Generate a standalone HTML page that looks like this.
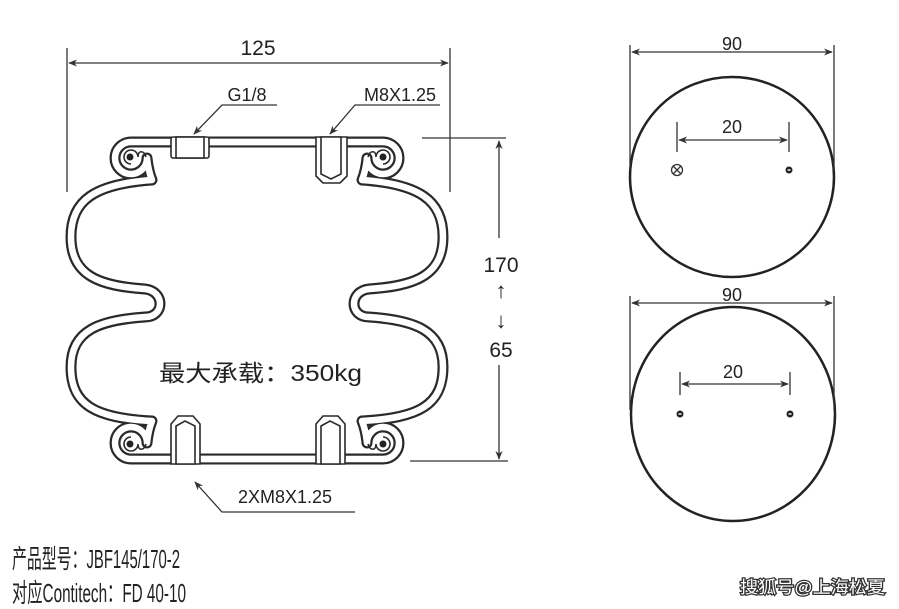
<!DOCTYPE html>
<html><head><meta charset="utf-8"><style>
html,body{margin:0;padding:0;background:#fff;width:899px;height:609px;overflow:hidden}
svg{display:block}
text{font-family:"Liberation Sans","Noto Sans CJK SC",sans-serif;fill:#222}
</style></head><body>
<svg width="899" height="609" viewBox="0 0 899 609" xmlns="http://www.w3.org/2000/svg">
<defs>
<marker id="a" viewBox="0 0 10 10" refX="9" refY="5" markerWidth="9" markerHeight="9" orient="auto-start-reverse" markerUnits="userSpaceOnUse"><path d="M0,1 L10,5 L0,9 L3,5z" fill="#333"/></marker>
</defs>
<g stroke="#333" stroke-width="1.3" fill="none">
<line x1="67" y1="48" x2="67" y2="192"/><line x1="450" y1="48" x2="450" y2="192"/>
<line x1="69" y1="63" x2="448" y2="63" marker-start="url(#a)" marker-end="url(#a)"/>
<line x1="422" y1="138" x2="506" y2="138"/><line x1="410" y1="461" x2="508" y2="461"/>
<line x1="499" y1="238" x2="499" y2="141" marker-end="url(#a)"/>
<line x1="499" y1="365" x2="499" y2="459" marker-end="url(#a)"/>
<polyline points="277,105 222,105 194,134" marker-end="url(#a)"/>
<polyline points="440,105 355,105 330,134" marker-end="url(#a)"/>
<polyline points="355,512 222,512 195,482" marker-end="url(#a)"/>
</g>
<text x="258" y="55" font-size="21" text-anchor="middle">125</text>
<text x="247" y="101" font-size="18" text-anchor="middle">G1/8</text>
<text x="400" y="101" font-size="18" text-anchor="middle">M8X1.25</text>
<text x="285" y="503" font-size="18" text-anchor="middle">2XM8X1.25</text>
<text x="501" y="272" font-size="21" text-anchor="middle">170</text>
<text x="501" y="298" font-size="22" text-anchor="middle">↑</text>
<text x="501" y="328" font-size="22" text-anchor="middle">↓</text>
<text x="501" y="357" font-size="21" text-anchor="middle">65</text>
<text x="159" y="381" font-size="23" textLength="203" lengthAdjust="spacingAndGlyphs">最大承载：350kg</text>

<g fill="none" stroke-linejoin="round" stroke-linecap="butt">
<g stroke="#2a2a2a" stroke-width="11">
<path id="p1" d="M330,142 H131 A16,16 0 1 0 147,158 C148,168 150,175 152,180 C95,184 71,200 71,237 C71,276 100,286 145,289 C165,291 165,317 145,317 C100,320 71,330 71,367 C71,405 95,418 152,421 C150,426 148,433 147,443 A16,16 0 1 0 131,459 H330"/>
<path id="p2" d="M180,142 H383 A16,16 0 1 1 367,158 C366,168 364,175 362,180 C419,184 443,200 443,237 C443,276 414,286 369,289 C349,291 349,317 369,317 C414,320 443,330 443,367 C443,405 419,418 362,421 C364,426 366,433 367,443 A16,16 0 1 1 383,459 H180"/>
</g>
<g stroke="#fff" stroke-width="6.5">
<use href="#p1"/><use href="#p2"/>
</g>
</g>
<g stroke="#2a2a2a" stroke-width="1.6" fill="none">
<path d="M131,164 A7,7 0 1 1 138,157 C138,150 144,150 146,157"/>
<path d="M383,164 A7,7 0 1 0 376,157 C376,150 370,150 368,157"/>
<path d="M131,437 A7,7 0 1 0 138,444 C138,451 144,451 146,444"/>
<path d="M383,437 A7,7 0 1 1 376,444 C376,451 370,451 368,444"/>
</g>
<g fill="#222"><circle cx="130" cy="157" r="3.5"/><circle cx="383" cy="157" r="3.5"/><circle cx="130" cy="444" r="3.5"/><circle cx="383" cy="444" r="3.5"/></g>
<g stroke="#2a2a2a" stroke-width="1.6" fill="#fff">
<rect x="171" y="137" width="38" height="21" rx="2"/>
<rect x="176" y="137" width="28" height="21"/>
<path d="M316,137 V176 L323,183 H340 L347,176 V137z"/>
<path d="M321,137 V174 L331,179 L341,174 V137z"/>
<path d="M171,464 V424 L178,416 H193 L200,424 V464z"/>
<path d="M176,464 V426 L185,421 L195,426 V464z"/>
<path d="M316,464 V424 L323,416 H338 L345,424 V464z"/>
<path d="M321,464 V426 L330,421 L340,426 V464z"/>
</g>

<g stroke="#222" stroke-width="2.5" fill="none">
<ellipse cx="732" cy="177" rx="102" ry="100"/>
<ellipse cx="733" cy="414" rx="102" ry="107"/>
</g>
<g stroke="#333" stroke-width="1.3" fill="none">
<line x1="630" y1="45" x2="630" y2="170"/><line x1="834" y1="45" x2="834" y2="170"/>
<line x1="632" y1="52" x2="832" y2="52" marker-start="url(#a)" marker-end="url(#a)"/>
<line x1="630" y1="296" x2="630" y2="410"/><line x1="834" y1="296" x2="834" y2="410"/>
<line x1="632" y1="303" x2="832" y2="303" marker-start="url(#a)" marker-end="url(#a)"/>
<line x1="677" y1="122" x2="677" y2="152"/><line x1="789" y1="122" x2="789" y2="152"/>
<line x1="679" y1="140" x2="787" y2="140" marker-start="url(#a)" marker-end="url(#a)"/>
<line x1="680" y1="372" x2="680" y2="395"/><line x1="790" y1="372" x2="790" y2="395"/>
<line x1="682" y1="384" x2="788" y2="384" marker-start="url(#a)" marker-end="url(#a)"/>
<circle cx="677" cy="170" r="5.5"/><path d="M673,166 L681,174 M681,166 L673,174"/>
</g>
<g fill="#222"><circle cx="789" cy="170" r="3.5"/><circle cx="680" cy="414" r="3.5"/><circle cx="790" cy="414" r="3.5"/></g>
<g fill="#fff"><rect x="787.5" y="169.3" width="3" height="1.4"/><rect x="678.5" y="413.3" width="3" height="1.4"/><rect x="788.5" y="413.3" width="3" height="1.4"/></g>
<text x="732" y="50" font-size="18" text-anchor="middle">90</text>
<text x="732" y="301" font-size="18" text-anchor="middle">90</text>
<text x="732" y="133" font-size="18" text-anchor="middle">20</text>
<text x="733" y="378" font-size="18" text-anchor="middle">20</text>

<text x="12" y="568" font-size="26" textLength="168" lengthAdjust="spacingAndGlyphs">产品型号：JBF145/170-2</text>
<text x="12" y="602" font-size="26" textLength="174" lengthAdjust="spacingAndGlyphs">对应Contitech：FD 40-10</text>
<text x="740" y="593" font-size="17" textLength="145" lengthAdjust="spacingAndGlyphs" style="fill:#fff;stroke:#333;stroke-width:2.5;paint-order:stroke">搜狐号@上海松夏</text>
</svg>
</body></html>
